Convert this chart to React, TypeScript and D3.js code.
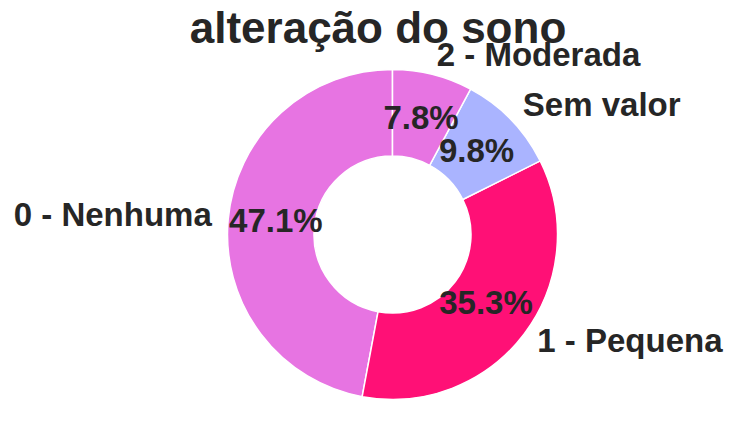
import React from 'react';
import * as d3 from 'd3';

const categories = ['0 - Nenhuma', '1 - Pequena', 'Sem valor', '2 - Moderada'];
const counts = [24, 18, 5, 4];
const colors = ['#e774e2', '#ff1076', '#aab4ff', '#e774e2'];
const title = 'alteração do sono';

const width = 736;
const height = 431;
const cx = 392.5;
const cy = 234.5;
const outerR = 165;
const innerR = 78.5;
const font = '"Liberation Sans", Arial, sans-serif';
const textColor = '#262626';

export default function App() {
  const total = d3.sum(counts);
  // counterclockwise from the top, like matplotlib's default pie
  const pie = d3.pie<number>().sort(null).startAngle(0).endAngle(-2 * Math.PI);
  const arcs = pie(counts);
  const arc = d3.arc<d3.PieArcDatum<number>>().innerRadius(innerR).outerRadius(outerR);
  const fmt = d3.format('.1f');

  return (
    <svg width={width} height={height} style={{ position: 'absolute', left: 0, top: 0, background: '#fff' }}>
      <text x={378} y={43} textAnchor="middle" fontFamily={font} fontWeight="bold" fontSize={44} fill={textColor}>
        {title}
      </text>
      <g transform={`translate(${cx},${cy})`}>
        {arcs.map((a, i) => (
          <path key={i} d={arc(a) || ''} fill={colors[i]} stroke="#fff" strokeWidth={1.5} strokeLinejoin="round" />
        ))}
        {arcs.map((a, i) => {
          const mid = (a.startAngle + a.endAngle) / 2;
          const lr = outerR * 1.1;
          const lx = Math.sin(mid) * lr;
          const ly = -Math.cos(mid) * lr;
          const pr = outerR * 0.71;
          const px = Math.sin(mid) * pr;
          const py = -Math.cos(mid) * pr;
          return (
            <g key={'l' + i} fontFamily={font} fontWeight="bold" fontSize={33} fill={textColor}>
              <text x={lx} y={ly} dy="0.24em" textAnchor={lx > 0 ? 'start' : 'end'}>
                {categories[i]}
              </text>
              <text x={px} y={py} dy="0.26em" textAnchor="middle">
                {fmt((counts[i] / total) * 100) + '%'}
              </text>
            </g>
          );
        })}
      </g>
    </svg>
  );
}
